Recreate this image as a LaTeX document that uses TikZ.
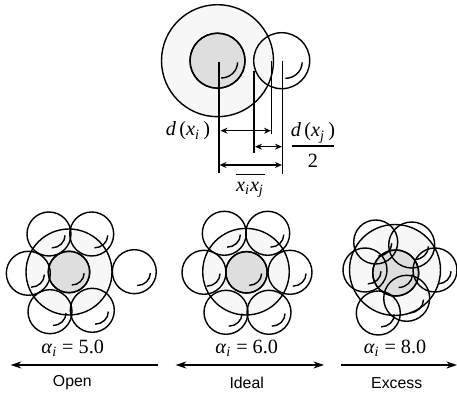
\documentclass[tikz,border=0pt]{standalone}
\usepackage{amsmath}
\usepackage{fontspec}
\setmainfont{Liberation Serif}
\setsansfont{Liberation Sans}
\usetikzlibrary{arrows.meta}
\definecolor{shell}{HTML}{F7F7F7}
\definecolor{core}{HTML}{DEDEDE}
\newcommand{\iv}[1]{\textit{#1}}
\newcommand{\ivsub}[1]{$_{\text{\itshape #1}}$}
\newcommand{\bead}[3]{
    \draw[ring] (#1,#2) circle (#3);
    \draw[ring] (#1,#2) ++(0.13*#3,0.63*#3) .. controls +(0.33*#3,0) and +(0,0.31*#3) .. +(0.6*#3,-0.57*#3);
}
\tikzset{
    ring/.style={line width=0.8pt,black},
    dim/.style={line width=0.8pt,{Stealth[length=4pt,width=3.4pt]}-{Stealth[length=4pt,width=3.4pt]}},
    rule/.style={line width=0.8pt},
    serifnum/.style={font=\fontsize{11.5}{13}\selectfont,inner sep=0pt},
    caption/.style={font=\sffamily\fontsize{9}{11}\selectfont,inner sep=0pt}
}
\begin{document}
\begin{tikzpicture}[x=0.02cm,y=-0.02cm]
    \useasboundingbox (0,0) rectangle (457,394);
    % top pair
    \filldraw[ring,fill=shell] (217.5,60.7) circle (56);
    \filldraw[ring,fill=core] (217.5,60.7) circle (27.5);
    \bead{217.5}{60.7}{27.5}
    \bead{281.7}{60.7}{28}
    \coordinate (ci) at (219,62);
    \coordinate (cib) at (219,173);
    \coordinate (li) at (254,71);
    \coordinate (lib) at (254,153);
    \coordinate (ri) at (271.7,60.7);
    \coordinate (rib) at (271.7,134);
    \coordinate (cj) at (282.7,60.7);
    \coordinate (cjb) at (282.7,174);
    \draw[rule] (ci) -- (cib);
    \draw[rule] (li) -- (lib);
    \draw[rule] (ri) -- (rib);
    \draw[rule] (cj) -- (cjb);
    \coordinate (a1) at (220.5,130.7);
    \coordinate (a2) at (271,130.7);
    \coordinate (b1) at (255,146.7);
    \coordinate (b2) at (282,146.7);
    \coordinate (c1) at (219.5,165);
    \coordinate (c2) at (282,165);
    \draw[dim] (a1) -- (a2);
    \draw[dim] (b1) -- (b2);
    \draw[dim] (c1) -- (c2);
    \node[serifnum] (di) at (188,131) {\iv{d}\,(\iv{x}\ivsub{i}\,)};
    \node[serifnum] (dj) at (313,133) {\iv{d}\,(\iv{x}\ivsub{j}\,)};
    \node[serifnum] (two) at (313,161) {2};
    \coordinate (f1) at (292,146);
    \coordinate (f2) at (334,146);
    \draw[rule] (f1) -- (f2);
    \node[serifnum] (xx) at (250,190) {\iv{x}\ivsub{i}\iv{x}\ivsub{j}};
    \coordinate (o1) at (236,174.5);
    \coordinate (o2) at (264.5,174.5);
    \draw[rule] (o1) -- (o2);
    % open
    \filldraw[ring,fill=shell] (69,272) circle (43);
    \filldraw[ring,fill=core] (69,272) circle (20.7);
    \bead{69}{272}{20.7}
    \foreach \x/\y in {49/234,91.7/234,28.3/273.3,134.3/271.7,50/311.7,92.3/310.3}
        \bead{\x}{\y}{22};
    % ideal
    \filldraw[ring,fill=shell] (246,271.7) circle (43.3);
    \filldraw[ring,fill=core] (246.5,272.3) circle (20.7);
    \bead{246.5}{272.3}{20.7}
    \foreach \x/\y in {224.3/233.3,267.7/233.3,204/272.3,290/272.3,226/312.3,269/312.3}
        \bead{\x}{\y}{22};
    % excess
    \filldraw[ring,fill=shell] (395,270) circle (45.5);
    \filldraw[ring,fill=core] (395.7,273) circle (23);
    \bead{395.7}{273}{23}
    \foreach \x/\y/\r in {375.7/242/22,411.7/245/23,435/270/22,365/270/22,406.7/298.3/23,378.3/313/22}
        \bead{\x}{\y}{\r};
    % scale
    \node[serifnum] (ao) at (72.7,348) {\iv{α}\ivsub{i} = 5.0};
    \node[serifnum] (ai) at (246.7,348) {\iv{α}\ivsub{i} = 6.0};
    \node[serifnum] (ae) at (395,348) {\iv{α}\ivsub{i} = 8.0};
    \coordinate (p1) at (10.7,365);
    \coordinate (p2) at (157.7,365);
    \coordinate (q1) at (175.7,365);
    \coordinate (q2) at (324,365);
    \coordinate (s1) at (341,365);
    \coordinate (s2) at (457,365);
    \draw[dim,{Stealth[length=6pt,width=4pt]}-] (p1) -- (p2);
    \draw[dim,{Stealth[length=6pt,width=4pt]}-{Stealth[length=6pt,width=4pt]}] (q1) -- (q2);
    \draw[dim,-{Stealth[length=6pt,width=4pt]}] (s1) -- (s2);
    \node[caption] (open) at (72.3,383) {Open};
    \node[caption] (ideal) at (246.7,383) {Ideal};
    \node[caption] (excess) at (396.7,383) {Excess};
\end{tikzpicture}
\end{document}
